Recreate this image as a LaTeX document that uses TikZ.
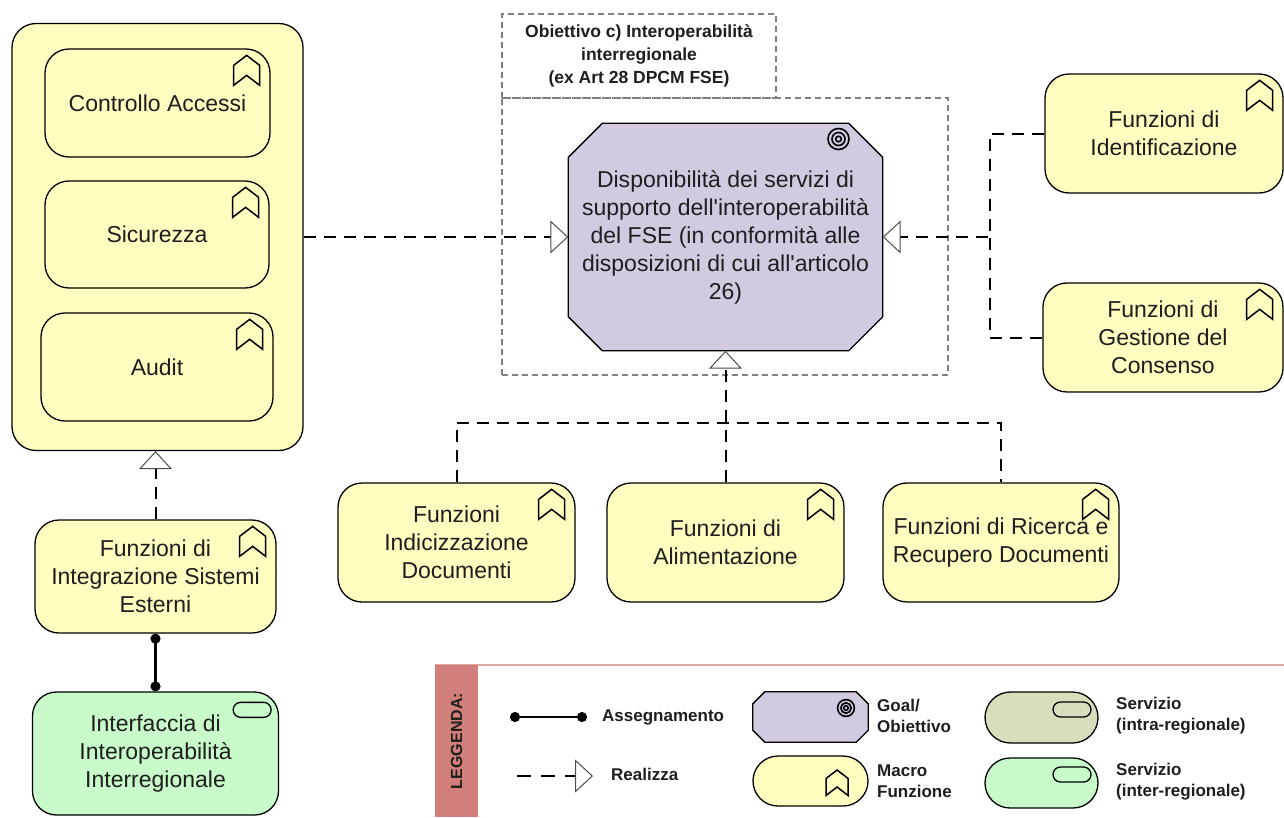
\documentclass[tikz,border=0pt]{standalone}
\usepackage{fontspec}
\setmainfont{Liberation Sans}
\usetikzlibrary{arrows.meta,backgrounds}

\definecolor{fnyellow}{RGB}{255,253,192}
\definecolor{goalviolet}{RGB}{211,202,226}
\definecolor{srvgreen}{RGB}{200,251,201}
\definecolor{srvolive}{RGB}{214,222,188}
\definecolor{legred}{RGB}{210,126,122}
\definecolor{legline}{RGB}{219,168,166}
\definecolor{txtgray}{RGB}{30,30,30}

\newcommand{\goaloct}[2]{%
  \begin{scope}[on background layer]
    \draw[line width=1.3pt, fill=goalviolet]
      ([xshift=#2]#1.north west) -- ([xshift=-#2]#1.north east) -- ([yshift=-#2]#1.north east)
      -- ([yshift=#2]#1.south east) -- ([xshift=-#2]#1.south east) -- ([xshift=#2]#1.south west)
      -- ([yshift=#2]#1.south west) -- ([yshift=-#2]#1.north west) -- cycle;
  \end{scope}}

\begin{document}
\begin{tikzpicture}[x=1pt,y=-1pt,
    txt/.style={font=\fontsize{23}{28}\selectfont, text=txtgray, align=center, inner sep=0pt},
    macro/.style={txt, draw, line width=1.3pt, fill=fnyellow, rounded corners=24pt},
    service/.style={txt, draw, line width=1.3pt, fill=srvgreen, rounded corners=24pt},
    goalbox/.style={txt},
    dframe/.style={draw=black!50, line width=1.2pt, dash pattern=on 6pt off 4pt, inner sep=0pt},
    legtxt/.style={font=\bfseries\fontsize{17}{21}\selectfont, text=txtgray, align=left, inner sep=0pt},
    dashlink/.style={line width=2pt, dash pattern=on 12pt off 8pt},
    realize/.style={dashlink, -{Triangle[open, length=18pt, width=33pt, line width=1pt, color=black!70]}},
    assign/.style={line width=2.2pt, {Circle[length=10pt]}-{Circle[length=10pt]}},
    fnglyph/.pic={\draw[line width=1.5pt] (0,30) -- (0,10) -- (13,0) -- (26,10) -- (26,30) -- (13,20) -- cycle;},
    srvglyph/.pic={\draw[line width=1.3pt, rounded corners=7.5pt] (0,0) rectangle (38,15);},
    goalglyph/.pic={\draw[line width=1.6pt] (0,0) circle[radius=10.5] (0,0) circle[radius=6.5] (0,0) circle[radius=2.8];}
    ]
    \useasboundingbox (0,0) rectangle (1284,817);

    \node[macro, minimum width=291pt, minimum height=427pt] (MF) at (157.5,237) {};
    \node[macro, minimum width=225pt, minimum height=108pt] (CA) at (157.5,103) {Controllo Accessi};
    \node[macro, minimum width=224pt, minimum height=107pt] (SIC) at (157,234.5) {Sicurezza};
    \node[macro, minimum width=232pt, minimum height=108pt] (AUD) at (157,367) {Audit};
    \node[macro, minimum width=241pt, minimum height=113pt] (ISE) at (155.5,576.5) {Funzioni di\\Integrazione Sistemi\\Esterni};
    \node[service, minimum width=246pt, minimum height=123pt] (III) at (155.5,753.5) {Interfaccia di\\Interoperabilità\\Interregionale};

    \node[dframe, minimum width=446pt, minimum height=277pt] (OBJ) at (725,236.5) {};
    \node[dframe, minimum width=274pt, minimum height=84pt, font=\bfseries\fontsize{17.5}{23}\selectfont,
        text=txtgray, align=center] (OBJL) at (639,56) {Obiettivo c) Interoperabilità\\interregionale\\(ex Art 28 DPCM FSE)};
    \node[goalbox, minimum width=314pt, minimum height=227pt] (GOAL) at (725.5,237)
        {Disponibilità dei servizi di\\supporto dell\textquotesingle interoperabilità\\del FSE (in conformità alle\\disposizioni di cui all\textquotesingle articolo\\26)};
    \goaloct{GOAL}{34pt}

    \node[macro, minimum width=238pt, minimum height=119pt] (FID) at (1164,133.5) {Funzioni di\\Identificazione};
    \node[macro, minimum width=240pt, minimum height=109pt] (FGC) at (1163,337.5) {Funzioni di\\Gestione del\\Consenso};

    \node[macro, minimum width=237pt, minimum height=119pt] (FIN) at (456.5,542.5) {Funzioni\\Indicizzazione\\Documenti};
    \node[macro, minimum width=237pt, minimum height=119pt] (FAL) at (725.5,542.5) {Funzioni di\\Alimentazione};
    \node[macro, minimum width=236pt, minimum height=119pt] (FRR) at (1001,542.5) {Funzioni di Ricerca e\\Recupero Documenti};

    \foreach \n in {CA,SIC,AUD,ISE,FID,FGC,FIN,FAL,FRR}
        \pic at ([xshift=-37pt,yshift=-7pt]\n.north east) {fnglyph};
    \pic at ([xshift=-46pt,yshift=-11pt]III.north east) {srvglyph};
    \pic at ([xshift=113pt,yshift=98pt]GOAL.center) {goalglyph};

    \coordinate (JR) at (990,237);
    \coordinate (JB) at (725.5,423);

    \draw[realize] (MF.east) -- (GOAL.west);
    \draw[realize] (FID.west) -| (JR) -- (GOAL.east);
    \draw[dashlink] (FGC.west) -| (JR);
    \draw[realize] (FAL.north) -- (GOAL.south);
    \draw[dashlink] (FIN.north) |- (JB) -| (FRR.north);
    \draw[realize] (ISE.north) -- (ISE.north |- MF.south);
    \draw[assign] (ISE.south) -- (III.north);

    \draw[legline, line width=1.2pt] (435,665) -- (1284,665);
    \node[fill=legred, minimum width=43pt, minimum height=152pt, inner sep=0pt] (LEGB) at (456.5,741) {};
    \node[rotate=90, font=\bfseries\fontsize{16}{18}\selectfont, text=txtgray] (LEGT) at (LEGB) {LEGGENDA:};

    \coordinate (LA1) at (510,717);
    \coordinate (LA2) at (587,717);
    \coordinate (LR1) at (517,776);
    \coordinate (LR2) at (593,776);
    \draw[assign] (LA1) -- (LA2);
    \draw[realize, line width=1.8pt, dash pattern=on 14pt off 10pt] (LR1) -- (LR2);
    \node[legtxt, anchor=west] (LAT) at (602,717) {Assegnamento};
    \node[legtxt, anchor=west] (LRT) at (611,774) {Realizza};

    \node[goalbox, minimum width=115pt, minimum height=50pt] (LG) at (810.5,717) {};
    \goaloct{LG}{12pt}
    \pic[scale=0.8] at ([xshift=35.5pt,yshift=9pt]LG.center) {goalglyph};
    \node[macro, rounded corners=25pt, minimum width=115pt, minimum height=50pt] (LM) at (810.5,781) {};
    \pic[scale=0.85] at ([xshift=15.5pt,yshift=11pt]LM.center) {fnglyph};
    \node[service, fill=srvolive, rounded corners=25.5pt, minimum width=113pt, minimum height=51pt] (LSI) at (1041.5,717.5) {};
    \pic at ([xshift=11.5pt,yshift=15.5pt]LSI.center) {srvglyph};
    \node[service, rounded corners=25pt, minimum width=113pt, minimum height=50pt] (LSE) at (1041.5,783) {};
    \pic at ([xshift=11.5pt,yshift=16pt]LSE.center) {srvglyph};

    \node[legtxt, anchor=west] (LGT) at (877,716) {Goal/\\Obiettivo};
    \node[legtxt, anchor=west] (LMT) at (877,781) {Macro\\Funzione};
    \node[legtxt, anchor=west] (LST) at (1116,716) {Servizio\\(intra-regionale)};
    \node[legtxt, anchor=west] (LET) at (1116,782) {Servizio\\(inter-regionale)};
\end{tikzpicture}
\end{document}
